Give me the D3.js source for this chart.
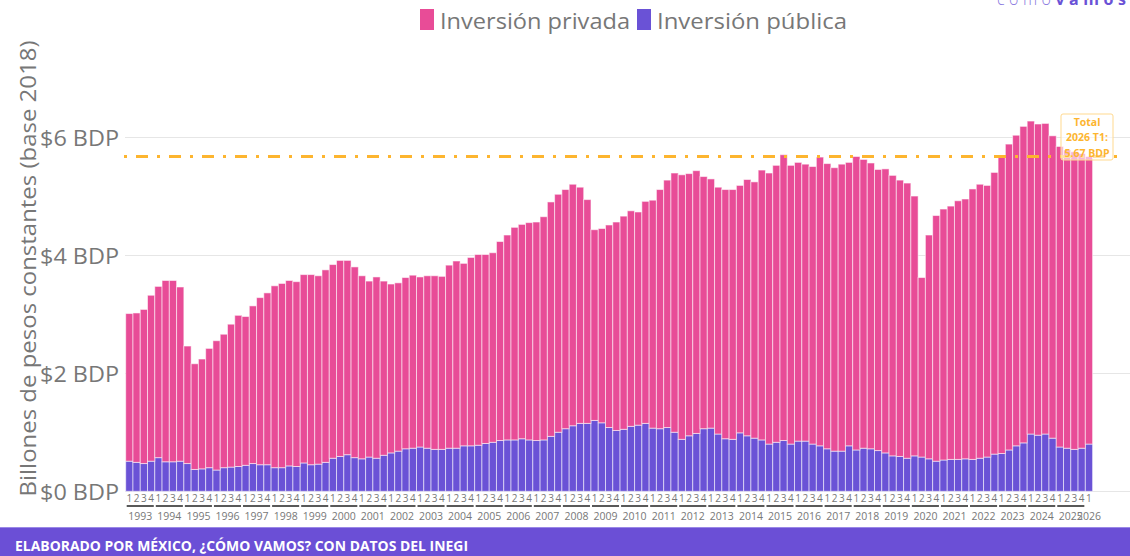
<!DOCTYPE html>
<html>
<head>
<meta charset="utf-8">
<script src="https://cdnjs.cloudflare.com/ajax/libs/d3/7.8.5/d3.min.js"></script>
<style>
  html, body { margin: 0; padding: 0; background: #fff; }
  #grafica { width: 1130px; height: 556px; }
  text { font-family: 'Open Sans', 'Noto Sans', sans-serif; }
</style>
</head>
<body>
<div id="grafica"></div>
<script>
'use strict';

// años y trimestres (1993 T1 - 2026 T1)
var anios = [1993, 1994, 1995, 1996, 1997, 1998, 1999, 2000, 2001, 2002, 2003, 2004, 2005,
  2006, 2007, 2008, 2009, 2010, 2011, 2012, 2013, 2014, 2015, 2016, 2017, 2018, 2019,
  2020, 2021, 2022, 2023, 2024, 2025, 2026];
var trimestres = ['1', '2', '3', '4'];
var ultimoTrimestre = 1;

// billones de pesos constantes (base 2018)
var publica = [
  0.51, 0.49, 0.47, 0.51,  0.57, 0.50, 0.50, 0.51,  0.47, 0.37, 0.38, 0.40,
  0.36, 0.40, 0.41, 0.42,  0.44, 0.47, 0.45, 0.45,  0.40, 0.40, 0.43, 0.42,
  0.48, 0.45, 0.46, 0.49,  0.56, 0.59, 0.62, 0.57,  0.55, 0.58, 0.56, 0.61,
  0.65, 0.68, 0.72, 0.73,  0.75, 0.73, 0.71, 0.71,  0.73, 0.73, 0.77, 0.77,
  0.78, 0.81, 0.83, 0.86,  0.87, 0.87, 0.89, 0.87,  0.86, 0.87, 0.93, 1.00,
  1.06, 1.11, 1.15, 1.15,  1.20, 1.16, 1.08, 1.03,  1.05, 1.10, 1.12, 1.15,
  1.07, 1.06, 1.08, 1.00,  0.88, 0.94, 0.98, 1.06,  1.07, 0.97, 0.89, 0.88,
  0.99, 0.94, 0.90, 0.87,  0.80, 0.83, 0.86, 0.80,  0.85, 0.85, 0.80, 0.77,
  0.72, 0.68, 0.68, 0.77,  0.70, 0.73, 0.72, 0.69,  0.65, 0.60, 0.59, 0.56,
  0.60, 0.58, 0.55, 0.51,  0.53, 0.54, 0.54, 0.55,  0.54, 0.56, 0.58, 0.63,
  0.64, 0.70, 0.77, 0.82,  0.97, 0.95, 0.97, 0.90,  0.75, 0.73, 0.71, 0.73,
  0.80
];
var privada = [
  2.50, 2.53, 2.61, 2.81,  2.90, 3.07, 3.07, 2.95,  1.99, 1.79, 1.86, 2.02,
  2.19, 2.26, 2.42, 2.56,  2.52, 2.67, 2.83, 2.91,  3.08, 3.12, 3.14, 3.13,
  3.19, 3.22, 3.19, 3.26,  3.28, 3.32, 3.29, 3.23,  3.10, 2.98, 3.07, 2.95,
  2.86, 2.85, 2.90, 2.93,  2.88, 2.92, 2.94, 2.93,  3.10, 3.17, 3.09, 3.19,
  3.23, 3.20, 3.21, 3.37,  3.47, 3.60, 3.63, 3.68,  3.70, 3.78, 3.97, 4.03,
  4.05, 4.09, 4.00, 3.79,  3.23, 3.29, 3.43, 3.53,  3.61, 3.65, 3.61, 3.76,
  3.86, 4.05, 4.19, 4.39,  4.48, 4.44, 4.45, 4.27,  4.22, 4.18, 4.22, 4.23,
  4.19, 4.34, 4.34, 4.57,  4.59, 4.69, 4.84, 4.72,  4.72, 4.69, 4.70, 4.89,
  4.83, 4.80, 4.86, 4.80,  4.97, 4.89, 4.84, 4.76,  4.81, 4.75, 4.68, 4.66,
  4.40, 3.04, 3.79, 4.16,  4.25, 4.29, 4.38, 4.40,  4.58, 4.64, 4.60, 4.77,
  5.03, 5.18, 5.26, 5.36,  5.30, 5.27, 5.26, 5.12,  5.09, 5.05, 5.04, 4.99,
  4.87
];
var yTicks = [0, 2, 4, 6];

var COLOR_PRIVADA = '#e84c97';
var COLOR_PUBLICA = '#6a52d6';
var COLOR_TOTAL = '#fdb52f';

// armar filas por trimestre
var datos = [];
anios.forEach(function(anio) {
  var n = anio === anios[anios.length - 1] ? ultimoTrimestre : 4;
  for (var t = 0; t < n; t++) {
    var i = datos.length;
    datos.push({ key: anio + '-' + trimestres[t], anio: anio, trim: trimestres[t],
      publica: publica[i], privada: privada[i] });
  }
});

var svg = d3.select('#grafica')
  .append('svg')
  .attr('width', 1130)
  .attr('height', 556);

var x = d3.scaleBand()
  .domain(datos.map(function(d) { return d.key; }))
  .range([125.7, 1092.6])
  .padding(0);

var y = d3.scaleLinear()
  .domain([0, 6])
  .range([491.3, 137]);

// rejilla
svg.append('g').selectAll('line')
  .data(yTicks)
  .enter().append('line')
  .attr('x1', 125)
  .attr('x2', 1130)
  .attr('y1', function(d) { return Math.round(y(d)) + 0.5; })
  .attr('y2', function(d) { return Math.round(y(d)) + 0.5; })
  .attr('stroke', '#e6e6e6')
  .attr('stroke-width', 1);

svg.append('g').selectAll('text')
  .data(yTicks)
  .enter().append('text')
  .attr('x', 119)
  .attr('y', function(d) { return y(d); })
  .attr('text-anchor', 'end')
  .attr('dominant-baseline', 'central')
  .attr('textLength', 79)
  .attr('lengthAdjust', 'spacingAndGlyphs')
  .style('font-size', '22.5px')
  .attr('fill', '#777')
  .text(function(d) { return '$' + d + ' BDP'; });

svg.append('text')
  .attr('transform', 'translate(27,268.5) rotate(-90)')
  .attr('text-anchor', 'middle')
  .attr('dominant-baseline', 'central')
  .attr('textLength', 456)
  .attr('lengthAdjust', 'spacingAndGlyphs')
  .style('font-size', '22.5px')
  .attr('fill', '#777')
  .text('Billones de pesos constantes (base 2018)');

// barras apiladas
var series = d3.stack().keys(['publica', 'privada'])(datos);
var colores = { publica: COLOR_PUBLICA, privada: COLOR_PRIVADA };

svg.append('g').selectAll('g')
  .data(series)
  .enter().append('g')
  .attr('fill', function(s) { return colores[s.key]; })
  .selectAll('rect')
  .data(function(s) { return s; })
  .enter().append('rect')
  .attr('x', function(d) { return x(d.data.key); })
  .attr('width', x.bandwidth())
  .attr('y', function(d) { return y(d[1]); })
  .attr('height', function(d) { return y(d[0]) - y(d[1]); })
  .attr('stroke', 'rgba(255,255,255,0.55)')
  .attr('stroke-width', 1);

// eje x: trimestres
svg.append('g').selectAll('text')
  .data(datos)
  .enter().append('text')
  .attr('x', function(d) { return x(d.key) + x.bandwidth() / 2; })
  .attr('y', 497.5)
  .attr('text-anchor', 'middle')
  .attr('dominant-baseline', 'central')
  .style('font-size', '10px')
  .attr('fill', '#777')
  .text(function(d) { return d.trim; });

// eje x: años
var grupos = d3.groups(datos, function(d) { return d.anio; });

svg.append('g').selectAll('line')
  .data(grupos.filter(function(g) { return g[1].length > 1; }))
  .enter().append('line')
  .attr('x1', function(g) { return x(g[1][0].key) + 1; })
  .attr('x2', function(g) { return x(g[1][g[1].length - 1].key) + x.bandwidth() - 1; })
  .attr('y1', 506)
  .attr('y2', 506)
  .attr('stroke', '#222')
  .attr('stroke-width', 1.5);

svg.append('g').selectAll('text')
  .data(grupos)
  .enter().append('text')
  .attr('x', function(g) {
    var a = x(g[1][0].key);
    var b = x(g[1][g[1].length - 1].key) + x.bandwidth();
    return (a + b) / 2;
  })
  .attr('y', 515.5)
  .attr('text-anchor', 'middle')
  .attr('dominant-baseline', 'central')
  .style('font-size', '10.5px')
  .attr('fill', '#777')
  .text(function(g) { return g[0]; });

// línea del total más reciente
var ultimo = datos[datos.length - 1];
var total = +(ultimo.publica + ultimo.privada).toFixed(2);

svg.append('line')
  .attr('x1', 124)
  .attr('x2', 1123)
  .attr('y1', y(total))
  .attr('y2', y(total))
  .attr('stroke', COLOR_TOTAL)
  .attr('stroke-width', 3)
  .attr('stroke-dasharray', '3,9,12,9');

var nota = svg.append('g').attr('transform', 'translate(1087,0)');
nota.append('rect')
  .attr('x', -26)
  .attr('y', 114)
  .attr('width', 52)
  .attr('height', 46)
  .attr('rx', 2)
  .attr('fill', 'rgba(255,255,255,0.6)')
  .attr('stroke', '#ffd98f')
  .attr('stroke-width', 1);
nota.selectAll('text')
  .data(['Total', ultimo.anio + ' T' + ultimo.trim + ':', total.toFixed(2) + ' BDP'])
  .enter().append('text')
  .attr('x', 0)
  .attr('y', function(d, i) { return 121.5 + i * 15.5; })
  .attr('text-anchor', 'middle')
  .attr('dominant-baseline', 'central')
  .style('font-size', '10.5px')
  .style('font-weight', 'bold')
  .attr('fill', COLOR_TOTAL)
  .text(function(d) { return d; });

// leyenda
var leyenda = [
  { nombre: 'Inversión privada', color: COLOR_PRIVADA, x: 420 },
  { nombre: 'Inversión pública', color: COLOR_PUBLICA, x: 637 }
];
var ley = svg.append('g').selectAll('g')
  .data(leyenda)
  .enter().append('g')
  .attr('transform', function(d) { return 'translate(' + d.x + ',0)'; });
ley.append('rect')
  .attr('x', 0)
  .attr('y', 9)
  .attr('width', 14)
  .attr('height', 21)
  .attr('fill', function(d) { return d.color; });
ley.append('text')
  .attr('x', 20)
  .attr('y', 20)
  .attr('dominant-baseline', 'central')
  .attr('textLength', 190)
  .attr('lengthAdjust', 'spacingAndGlyphs')
  .style('font-size', '22px')
  .attr('fill', '#777')
  .text(function(d) { return d.nombre; });

// logo
var logo = svg.append('text')
  .attr('x', 997)
  .attr('y', 5)
  .style('font-size', '16px')
  .style('letter-spacing', '4.5px');
logo.append('tspan')
  .attr('fill', '#8a7ae0')
  .style('font-weight', 300)
  .text('cómo');
logo.append('tspan')
  .attr('fill', COLOR_PUBLICA)
  .style('font-weight', 'bold')
  .text('vamos');

// pie
svg.append('rect')
  .attr('x', 0)
  .attr('y', 527)
  .attr('width', 1130)
  .attr('height', 29)
  .attr('fill', '#6b4fd6');
svg.append('line')
  .attr('x1', 0)
  .attr('x2', 1130)
  .attr('y1', 527.5)
  .attr('y2', 527.5)
  .attr('stroke', '#9a88e6')
  .attr('stroke-width', 1);
svg.append('text')
  .attr('x', 15)
  .attr('y', 545)
  .attr('dominant-baseline', 'central')
  .attr('textLength', 453)
  .attr('lengthAdjust', 'spacingAndGlyphs')
  .style('font-size', '14px')
  .style('font-weight', 'bold')
  .attr('fill', '#fff')
  .text('ELABORADO POR MÉXICO, ¿CÓMO VAMOS? CON DATOS DEL INEGI');
</script>
</body>
</html>
